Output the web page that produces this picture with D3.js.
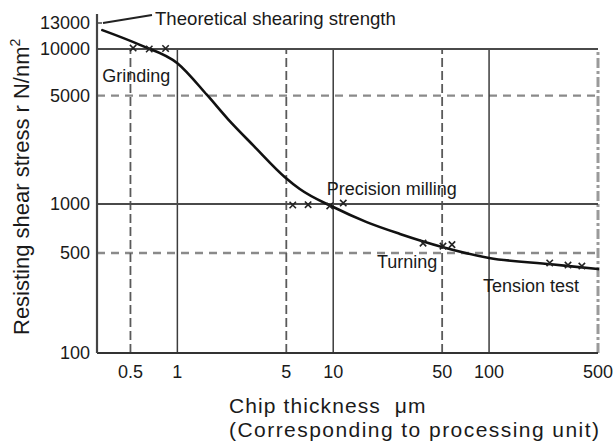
<!DOCTYPE html>
<html>
<head>
<meta charset="utf-8">
<script src="https://cdn.jsdelivr.net/npm/d3@7"></script>
<style>
  body { margin: 0; background: #fff; }
  text { font-family: "Liberation Sans", Arial, Helvetica, sans-serif; fill: #1a1a1a; }
</style>
</head>
<body>
<svg id="chart" width="614" height="442"></svg>
<script>
// Axis values (log-log chart)
const xTickValues = [0.5, 1, 5, 10, 50, 100, 500];
const xSolidGrid = [1, 10, 100];
const xDashedGrid = [0.5, 5, 50];
const yTickValues = [13000, 10000, 5000, 1000, 500, 100];
const ySolidGrid = [10000, 1000];
const yDashedGrid = [5000, 500];

// Fitted shear-stress curve
const curveThickness = [0.33, 0.58, 1.0, 1.55, 2.11, 3.1, 4.9, 6.1, 10, 16.4, 26.8, 50, 100, 250, 500];
const curveStress = [12100, 10400, 8100, 5050, 3530, 2365, 1490, 1250, 958, 774, 655, 545, 462, 417, 386];

// Measured points per process
const grindingX = [0.52, 0.66, 0.84];
const grindingY = [10100, 10000, 10050];
const millingX = [5.5, 6.9, 9.5, 11.6];
const millingY = [986, 990, 973, 1014];
const turningX = [37.7, 50.6, 57.8];
const turningY = [575, 551, 563];
const tensionX = [245, 321, 394];
const tensionY = [426, 412, 405];

// Process labels and where they sit (data coordinates of text start / baseline)
const processNames = ["Grinding", "Precision milling", "Turning", "Tension test"];
const processLabelX = [0.33, 9.1, 19.1, 91.4];
const processLabelY = [6120, 1143, 393, 267];

const theoreticalLabel = "Theoretical shearing strength";
const theoreticalStress = 13000;

const svg = d3.select("#chart");

const x = d3.scaleLog().domain([0.305, 500]).range([97, 598]);
// hand-drawn axis: decades are not quite evenly spaced, so the scale is piecewise
const y = d3.scaleLog().domain([100, 500, 1000, 10000, 13000]).range([353, 253, 204, 49, 23]);

const x0 = x.range()[0], x1 = x.range()[1];
const yBottom = y(100), yTop = y(10000);

const grid = svg.append("g");

// horizontal dashed grid
grid.selectAll("line.hd").data(yDashedGrid).join("line")
  .attr("x1", x0).attr("x2", x1)
  .attr("y1", d => y(d)).attr("y2", d => y(d))
  .attr("stroke", "#8a8a8a").attr("stroke-width", 2.4)
  .attr("stroke-dasharray", "8,6");

// vertical dashed grid
grid.selectAll("line.vd").data(xDashedGrid).join("line")
  .attr("x1", d => x(d)).attr("x2", d => x(d))
  .attr("y1", yBottom).attr("y2", yTop)
  .attr("stroke", "#5a5a5a").attr("stroke-width", 1.8)
  .attr("stroke-dasharray", "9,4");

// right border (500 µm)
grid.append("line")
  .attr("x1", x1).attr("x2", x1).attr("y1", yBottom).attr("y2", yTop)
  .attr("stroke", "#9a9a9a").attr("stroke-width", 3)
  .attr("stroke-dasharray", "10,3,3,3");

// vertical solid grid
grid.selectAll("line.vs").data(xSolidGrid).join("line")
  .attr("x1", d => x(d)).attr("x2", d => x(d))
  .attr("y1", yBottom).attr("y2", yTop)
  .attr("stroke", "#3c3c3c").attr("stroke-width", 1.5);

// horizontal solid grid
grid.selectAll("line.hs").data(ySolidGrid).join("line")
  .attr("x1", x0).attr("x2", x1)
  .attr("y1", d => y(d)).attr("y2", d => y(d))
  .attr("stroke", "#4a4a4a").attr("stroke-width", 1.8);

// axes
grid.append("line")
  .attr("x1", x0).attr("x2", x1).attr("y1", yBottom).attr("y2", yBottom)
  .attr("stroke", "#333").attr("stroke-width", 2.2);
grid.append("line")
  .attr("x1", x0).attr("x2", x0).attr("y1", yBottom).attr("y2", y(13000) - 9)
  .attr("stroke", "#444").attr("stroke-width", 2.2);
grid.append("line")
  .attr("x1", x0).attr("x2", x0 + 5).attr("y1", y(13000)).attr("y2", y(13000))
  .attr("stroke", "#444").attr("stroke-width", 1.5);

// tick labels
svg.append("g").selectAll("text").data(yTickValues).join("text")
  .attr("x", x0 - 7).attr("y", d => y(d)).attr("dy", "0.36em")
  .attr("text-anchor", "end").attr("font-size", 18)
  .text(d => d);

svg.append("g").selectAll("text").data(xTickValues).join("text")
  .attr("x", d => x(d)).attr("y", yBottom + 25)
  .attr("text-anchor", "middle").attr("font-size", 18)
  .text(d => d);

// curve
const line = d3.line()
  .x(d => x(d[0])).y(d => y(d[1]))
  .curve(d3.curveMonotoneX);
svg.append("path")
  .datum(d3.zip(curveThickness, curveStress))
  .attr("d", line)
  .attr("fill", "none").attr("stroke", "#111").attr("stroke-width", 2.6)
  .attr("stroke-linecap", "round");

// measured points as small crosses
const pts = [].concat(
  d3.zip(grindingX, grindingY),
  d3.zip(millingX, millingY),
  d3.zip(turningX, turningY),
  d3.zip(tensionX, tensionY)
);
const s = 3.2;
svg.append("g").selectAll("path").data(pts).join("path")
  .attr("d", d => {
    const px = x(d[0]), py = y(d[1]);
    return `M${px - s},${py - s}L${px + s},${py + s}M${px - s},${py + s}L${px + s},${py - s}`;
  })
  .attr("stroke", "#222").attr("stroke-width", 1.6).attr("fill", "none");

// process labels
svg.append("g").selectAll("text").data(processNames).join("text")
  .attr("x", (d, i) => x(processLabelX[i]))
  .attr("y", (d, i) => y(processLabelY[i]))
  .attr("font-size", 18)
  .text(d => d);

// theoretical shearing strength annotation
const tx = x0 + 58, ty = y(theoreticalStress) + 2;
svg.append("text")
  .attr("x", tx).attr("y", ty).attr("font-size", 18.6)
  .text(theoreticalLabel);
svg.append("line")
  .attr("x1", x0 + 6).attr("y1", y(theoreticalStress))
  .attr("x2", tx - 3).attr("y2", y(theoreticalStress) - 8)
  .attr("stroke", "#222").attr("stroke-width", 2);

// axis titles
svg.append("text")
  .attr("x", 229).attr("y", 413).attr("font-size", 21)
  .attr("letter-spacing", 1.1)
  .style("white-space", "pre")
  .text("Chip thickness  μm");
svg.append("text")
  .attr("x", 229).attr("y", 437).attr("font-size", 21)
  .attr("letter-spacing", 1.45)
  .text("(Corresponding to processing unit)");

const yTitle = svg.append("text")
  .attr("transform", "translate(29,335) rotate(-90)")
  .attr("font-size", 22);
yTitle.append("tspan").text("Resisting shear stress r N/nm");
yTitle.append("tspan").attr("font-size", 14).attr("dy", -9).text("2");
</script>
</body>
</html>
